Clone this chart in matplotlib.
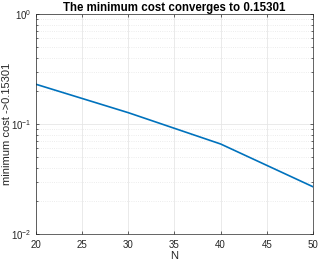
import matplotlib
matplotlib.use('Agg')
import matplotlib.pyplot as plt
import numpy as np

# data
N = [20, 30, 40, 50]
min_cost = [0.2296, 0.1267, 0.0658, 0.0269]
x_ticks = [20, 25, 30, 35, 40, 45, 50]

plt.rcParams['font.family'] = ['Liberation Sans', 'DejaVu Sans']

fig = plt.figure(figsize=(3.19, 2.61), dpi=100)
ax = fig.add_axes([0.113, 0.1034, 0.868, 0.843])

ax.plot(N, min_cost, color='#0072BD', linewidth=1.2)

ax.set_yscale('log')
ax.set_xlim(20, 50)
ax.set_ylim(1e-2, 1e0)
ax.set_xticks(x_ticks)

ax.grid(True, which='major', color='#e6e6e6', linewidth=0.6)
ax.grid(True, which='minor', axis='y', color='#e6e6e6', linewidth=0.6, linestyle=':')
ax.set_axisbelow(True)

ax.tick_params(which='both', direction='in', top=True, right=True,
               labelsize=7, colors='#262626', length=2.5, width=0.5)
ax.tick_params(axis='x', pad=4)
ax.tick_params(which='minor', length=1.5)
for s in ax.spines.values():
    s.set_color('#262626')
    s.set_linewidth(0.5)

ax.set_xlabel('N', fontsize=8, color='#262626', labelpad=1)
ax.set_ylabel('minimum cost ->0.15301', fontsize=8, color='#262626')
ax.yaxis.set_label_coords(-0.088, 0.5)
ax.set_title('The minimum cost converges to 0.15301', fontsize=8.3, fontweight='bold', pad=2)

fig.savefig('out.png', dpi=100)
